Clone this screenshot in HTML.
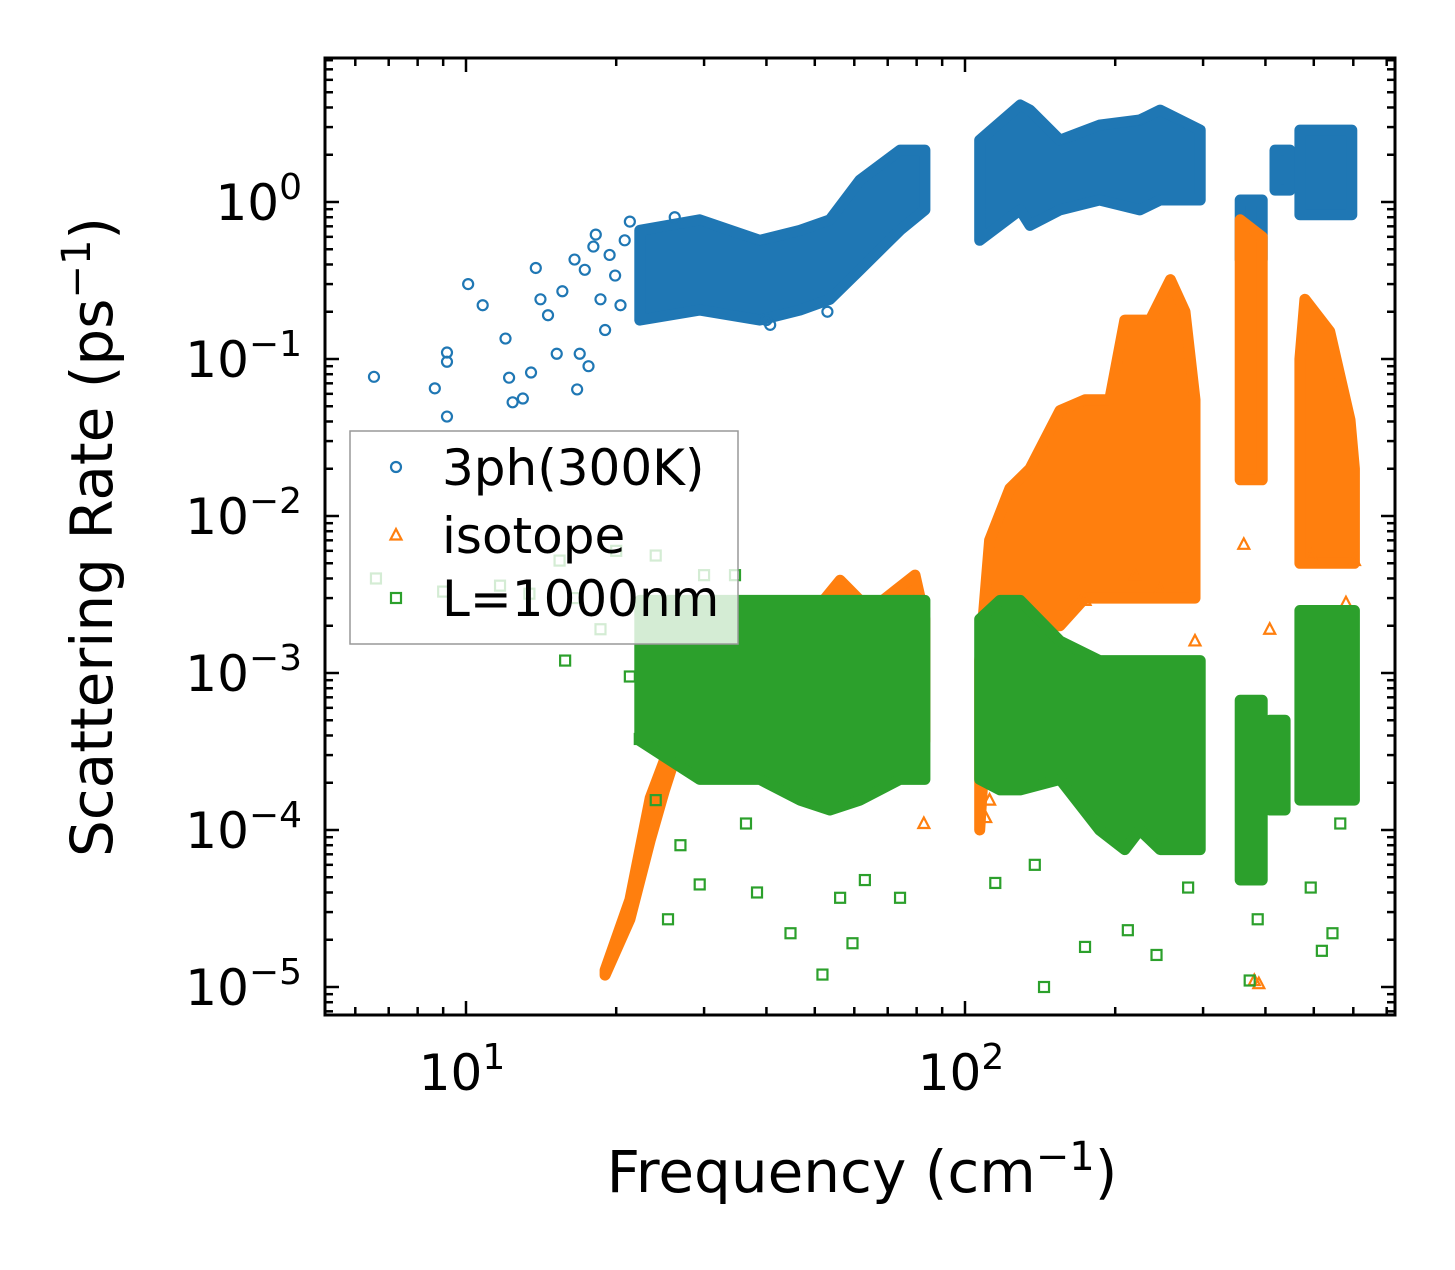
<!DOCTYPE html>
<html><head><meta charset="utf-8"><style>
html,body{margin:0;padding:0;background:#fff}
svg text{font-family:"DejaVu Sans","Liberation Sans",sans-serif;fill:#000}
</style></head><body>
<svg id="chart" width="1455" height="1265" viewBox="0 0 1455 1265" xmlns="http://www.w3.org/2000/svg">
<rect width="1455" height="1265" fill="#fff"/>
<g id="marks"></g>
<g id="axes"></g>
<g id="legend"></g>
<text x="862" y="1192" font-size="58" text-anchor="middle">Frequency (cm<tspan dy="-22" font-size="40">−1</tspan><tspan dy="22">)</tspan></text>
<text transform="translate(112,537) rotate(-90)" font-size="58" text-anchor="middle">Scattering Rate (ps<tspan dy="-22" font-size="40">−1</tspan><tspan dy="22">)</tspan></text>
</svg>
<script>
// ---- data ----
const blueBandF  = [22.3,29.4,38.8,46.7,53.6,61.6,74.1,83.1,null,107,129,135,155,186,224,246,296,null,356,394,null,418,448,null,469,596];
const blueBandLo = [0.177,0.205,0.177,0.205,0.24,0.37,0.66,0.89,null,0.57,0.89,0.71,0.89,1.03,0.89,1.03,1.03,null,0.43,0.43,null,1.19,1.19,null,0.83,0.83];
const blueBandHi = [0.66,0.77,0.57,0.66,0.77,1.38,2.14,2.14,null,2.48,4.15,3.85,2.48,3.09,3.33,3.85,2.87,null,1.03,1.03,null,2.14,2.14,null,2.87,2.87];
const orangeBandF  = [19.0,21.3,23.4,25.0,26.9,29.4,38.8,46.7,56.2,64.5,79.4,83.1,null,107,112,123,135,155,174,195,209,235,258,276,289,null,356,394,null,469,480,538,591,603];
const orangeBandHi = [1.28e-5,3.6e-5,1.6e-4,2.8e-4,6.7e-4,1.6e-3,1.2e-3,1.9e-3,3.9e-3,2.5e-3,4.2e-3,2.2e-3,null,1.2e-3,7e-3,1.5e-2,2e-2,4.7e-2,5.5e-2,5.5e-2,0.177,0.177,0.32,0.2,0.055,null,0.77,0.6,null,0.1,0.24,0.15,0.041,0.02];
const orangeBandLo = [1.19e-5,2.7e-5,8.6e-5,1.8e-4,3.7e-4,3.7e-4,3.7e-4,3.7e-4,3.7e-4,3.7e-4,3.7e-4,3.7e-4,null,1e-4,1e-3,1e-3,2e-3,2e-3,3e-3,3e-3,3e-3,3e-3,3e-3,3e-3,3e-3,null,0.017,0.017,null,0.005,0.005,0.005,0.005,0.005];
const greenBandF  = [22.3,29.4,38.8,46.7,53.6,61.6,74.1,83.1,null,107,117.5,129,155,186,209,224,246,296,null,356,394,null,408,438,null,469,603];
const greenBandHi = [2.9e-3,2.9e-3,2.9e-3,2.9e-3,2.9e-3,2.9e-3,2.9e-3,2.9e-3,null,2.2e-3,2.9e-3,2.9e-3,1.6e-3,1.2e-3,1.2e-3,1.2e-3,1.2e-3,1.2e-3,null,6.7e-4,6.7e-4,null,5e-4,5e-4,null,2.5e-3,2.5e-3];
const greenBandLo = [3.7e-4,2.1e-4,2.1e-4,1.55e-4,1.34e-4,1.55e-4,2.1e-4,2.1e-4,null,2.1e-4,1.8e-4,1.8e-4,2.1e-4,1e-4,7.5e-5,1e-4,7.5e-5,7.5e-5,null,4.8e-5,4.8e-5,null,1.34e-4,1.34e-4,null,1.55e-4,1.55e-4];

const blueF = [6.54,8.66,9.16,9.16,9.16,10.1,10.8,12.0,12.2,12.4,13,13.5,13.8,14.1,14.6,15.2,15.6,16.5,16.7,16.9,17.3,17.6,18,18.2,18.6,19,19.4,19.9,20.4,20.8,21.3,26.2,40.7,40,53];
const blueV = [0.077,0.065,0.11,0.096,0.043,0.3,0.22,0.135,0.076,0.053,0.056,0.082,0.38,0.24,0.19,0.108,0.27,0.43,0.064,0.108,0.37,0.09,0.52,0.62,0.24,0.153,0.46,0.34,0.22,0.57,0.75,0.8,0.165,0.177,0.2];
const greenF = [15.8,21.3,22.3,24,26.9,29.4,25.4,36.4,38.3,44.7,51.8,59.5,56.2,63,74.1,144,138,115,174,212,242,280,372,386,519,545,565,493,6.6,9,11.7,13.4,15.4,16.5,18.6,20,24,30,34.6];
const greenV = [1.2e-3,9.5e-4,3.8e-4,1.55e-4,8e-5,4.5e-5,2.7e-5,1.1e-4,4e-5,2.2e-5,1.2e-5,1.9e-5,3.7e-5,4.8e-5,3.7e-5,1e-5,6e-5,4.6e-5,1.8e-5,2.3e-5,1.6e-5,4.3e-5,1.1e-5,2.7e-5,1.7e-5,2.2e-5,1.1e-4,4.3e-5,4e-3,3.3e-3,3.6e-3,3.2e-3,5.2e-3,3e-3,1.9e-3,6e-3,5.6e-3,4.2e-3,4.2e-3];
const orangeF = [112,110,123,82.7,380,388,362,494,580,219,174,246,289,408,603];
const orangeV = [1.55e-4,1.2e-4,2.4e-4,1.1e-4,1.1e-5,1.05e-5,6.6e-3,5.6e-3,2.8e-3,4.2e-3,2.9e-3,3.4e-3,1.6e-3,1.9e-3,5.2e-3];

const xTickVals = [10,100];
const xTickExp = ["1","2"];
const yTickVals = [1,0.1,0.01,0.001,0.0001,0.00001];
const yTickExp = ["0","−1","−2","−3","−4","−5"];

// ---- axes functions ----
const L=325,R=1395,T=58,B=1015;
const X10=466, DX=499, Y1=202, DY=157;
function sx(f){return X10+(Math.log10(f)-1)*DX;}
function sy(v){return Y1-Math.log10(v)*DY;}
const NS="http://www.w3.org/2000/svg";
function mk(tag,attrs,parent){const e=document.createElementNS(NS,tag);for(const k in attrs)e.setAttribute(k,attrs[k]);parent.appendChild(e);return e;}

const marks=document.getElementById('marks');
const clip=mk('clipPath',{id:'pc'},marks);mk('rect',{x:L,y:T,width:R-L,height:B-T},clip);
const mg=mk('g',{'clip-path':'url(#pc)'},marks);

function drawBands(F,Lo,Hi,color,name){
  let seg=[];
  const flush=()=>{
    if(!seg.length)return;
    const top=seg.map(i=>sx(F[i]).toFixed(1)+','+sy(Hi[i]).toFixed(1));
    const bot=seg.slice().reverse().map(i=>sx(F[i]).toFixed(1)+','+sy(Lo[i]).toFixed(1));
    const p=mk('polygon',{points:top.concat(bot).join(' '),fill:color,stroke:color,'stroke-width':11,'stroke-linejoin':'round'},mg);
    
    
    seg=[];
  };
  for(let i=0;i<F.length;i++){if(F[i]===null)flush();else seg.push(i);}
  flush();
}
function circle(x,y,c,par){return mk('circle',{cx:x,cy:y,r:5,fill:'none',stroke:c,'stroke-width':2.2},par);}
function tri(x,y,c,par){return mk('polygon',{points:`${x},${y-6} ${x+5.5},${y+4.5} ${x-5.5},${y+4.5}`,fill:'none',stroke:c,'stroke-width':2.2},par);}
function sq(x,y,c,par){return mk('rect',{x:x-5,y:y-5,width:10,height:10,fill:'none',stroke:c,'stroke-width':2.2},par);}

drawBands(blueBandF,blueBandLo,blueBandHi,'#1f77b4','3ph-dense-region');
for(let i=0;i<blueF.length;i++){const e=circle(sx(blueF[i]),sy(blueV[i]),'#1f77b4',mg);
  
  }
drawBands(orangeBandF,orangeBandLo,orangeBandHi,'#ff7f0e','isotope-dense-region');
for(let i=0;i<orangeF.length;i++){const e=tri(sx(orangeF[i]),sy(orangeV[i]),'#ff7f0e',mg);
  
  }
drawBands(greenBandF,greenBandLo,greenBandHi,'#2ca02c','boundary-dense-region');
for(let i=0;i<greenF.length;i++){const e=sq(sx(greenF[i]),sy(greenV[i]),'#2ca02c',mg);
  
  }

// ---- axes ----
const ax=document.getElementById('axes');
const frame=mk('rect',{x:L,y:T,width:R-L,height:B-T,fill:'none',stroke:'#000','stroke-width':3},ax);


function tickX(x,len){mk('line',{x1:x,x2:x,y1:B,y2:B-len,stroke:'#000','stroke-width':2.5},ax);mk('line',{x1:x,x2:x,y1:T,y2:T+len,stroke:'#000','stroke-width':2.5},ax);}
function tickY(y,len){mk('line',{x1:L,x2:L+len,y1:y,y2:y,stroke:'#000','stroke-width':2.5},ax);mk('line',{x1:R,x2:R-len,y1:y,y2:y,stroke:'#000','stroke-width':2.5},ax);}
for(let d=0;d<3;d++){for(let m=1;m<10;m++){const f=m*Math.pow(10,d);const x=sx(f);if(x>L&&x<R)tickX(x,m===1?14:8);}}
for(let d=-6;d<1;d++){for(let m=1;m<10;m++){const v=m*Math.pow(10,d);const y=sy(v);if(y>T&&y<B)tickY(y,m===1?14:8);}}
xTickVals.forEach((v,i)=>{const t=mk('text',{x:sx(v)-4,y:1090,'font-size':50,'text-anchor':'middle'},ax);
  
  
  t.innerHTML='10<tspan dy="-21" font-size="36">'+xTickExp[i]+'</tspan>';});
yTickVals.forEach((v,i)=>{const t=mk('text',{x:302,y:sy(v)+18,'font-size':50,'text-anchor':'end'},ax);
  
  
  t.innerHTML='10<tspan dy="-21" font-size="36">'+yTickExp[i]+'</tspan>';});

// ---- legend ----
const lg=document.getElementById('legend');
const box=mk('rect',{x:350,y:431,width:388,height:213,fill:'#fff','fill-opacity':0.8,stroke:'#999','stroke-width':1.5},lg);


const entries=[['3ph(300K)','#1f77b4',circle,467],['isotope','#ff7f0e',tri,535],['L=1000nm','#2ca02c',sq,598]];
entries.forEach(e=>{
  const g=mk('g',{},lg);
  
  
  e[2](396,e[3],e[1],g);
  const t=mk('text',{x:442,y:e[3]+18,'font-size':50},g);
  t.textContent=e[0];
});
</script>
</body></html>
